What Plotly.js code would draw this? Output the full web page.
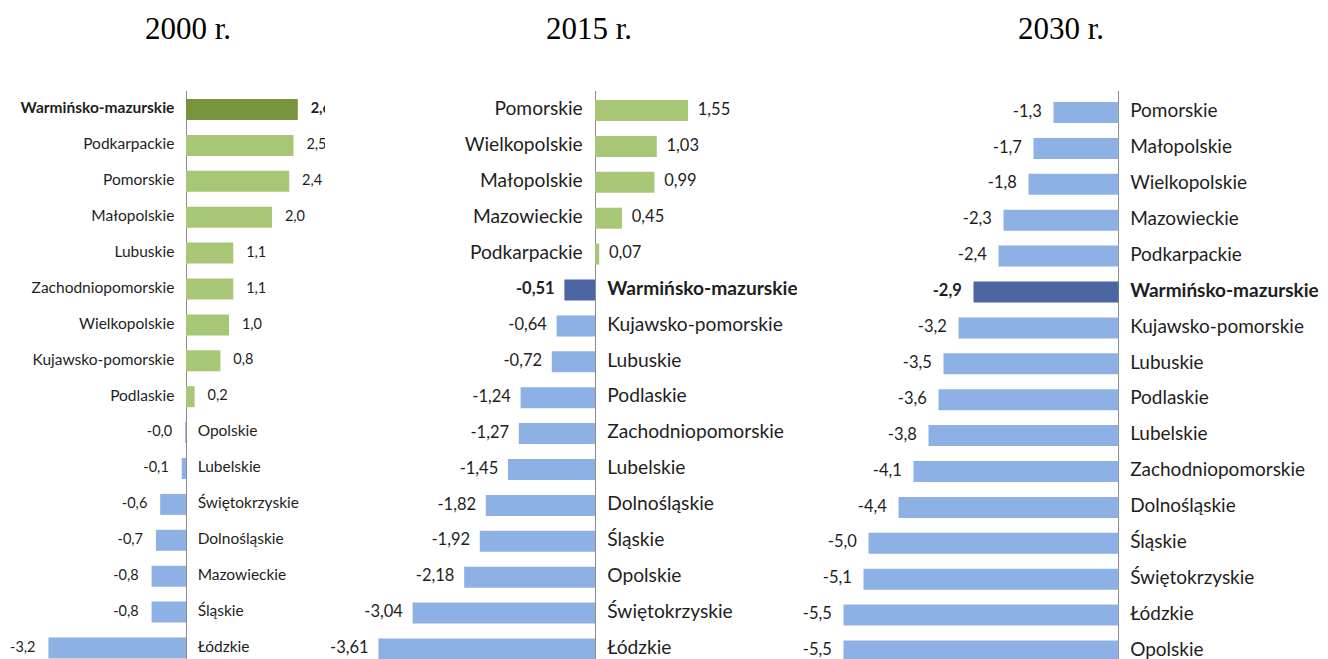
<!DOCTYPE html>
<html>
<head>
<meta charset="utf-8">
<script src="https://cdn.plot.ly/plotly-3.0.1.min.js"></script>
<style>
  html, body { margin: 0; padding: 0; background: #fff; }
  #myPlot { width: 1328px; height: 659px; }
</style>
</head>
<body>
<div id="myPlot"></div>
<script>
// regiony i saldo w trzech latach
var years = ["2000 r.", "2015 r.", "2030 r."];

var cats2000 = ["Warmińsko-mazurskie", "Podkarpackie", "Pomorskie", "Małopolskie", "Lubuskie",
  "Zachodniopomorskie", "Wielkopolskie", "Kujawsko-pomorskie", "Podlaskie", "Opolskie",
  "Lubelskie", "Świętokrzyskie", "Dolnośląskie", "Mazowieckie", "Śląskie", "Łódzkie"];
var vals2000 = [2.6, 2.5, 2.4, 2.0, 1.1, 1.1, 1.0, 0.8, 0.2, -0.02, -0.1, -0.6, -0.7, -0.8, -0.8, -3.2];

var cats2015 = ["Pomorskie", "Wielkopolskie", "Małopolskie", "Mazowieckie", "Podkarpackie",
  "Warmińsko-mazurskie", "Kujawsko-pomorskie", "Lubuskie", "Podlaskie", "Zachodniopomorskie",
  "Lubelskie", "Dolnośląskie", "Śląskie", "Opolskie", "Świętokrzyskie", "Łódzkie"];
var vals2015 = [1.55, 1.03, 0.99, 0.45, 0.07, -0.51, -0.64, -0.72, -1.24, -1.27, -1.45, -1.82, -1.92, -2.18, -3.04, -3.61];

var cats2030 = ["Pomorskie", "Małopolskie", "Wielkopolskie", "Mazowieckie", "Podkarpackie",
  "Warmińsko-mazurskie", "Kujawsko-pomorskie", "Lubuskie", "Podlaskie", "Lubelskie",
  "Zachodniopomorskie", "Dolnośląskie", "Śląskie", "Świętokrzyskie", "Łódzkie", "Opolskie"];
var vals2030 = [-1.3, -1.7, -1.8, -2.3, -2.4, -2.9, -3.2, -3.5, -3.6, -3.8, -4.1, -4.4, -5.0, -5.1, -5.5, -5.5];

var highlight = "Warmińsko-mazurskie";

var W = 1328, H = 659;
var FONT = "Lato, 'Open Sans', sans-serif";

// px settings for each panel: left/right edge, axis position, px per unit
var panels = [
  {cats: cats2000, vals: vals2000, dec: 1, left: 0, right: 325, axis: 186, ppu: 43, top: 18.5,
   labSize: 15.5, valSize: 14.5, labGap: 17, valGap: 19, clip: true},
  {cats: cats2015, vals: vals2015, dec: 2, left: 328, right: 797, axis: 595, ppu: 60, top: 19.5,
   labSize: 19.2, valSize: 16.5, labGap: 18, valGap: 14, clip: true},
  {cats: cats2030, vals: vals2030, dec: 1, left: 797, right: 1328, axis: 1118.5, ppu: 50, top: 21.5,
   labSize: 19, valSize: 16.5, labGap: 17, valGap: 17, clip: false}
];

var plotTop = 91;
var rowPx = 35.9;

function fmt(v, d) {
  return v.toFixed(d).replace(".", ",");
}

var data = [];
var layout = {
  width: W, height: H,
  margin: {l: 0, r: 0, t: 0, b: 0},
  paper_bgcolor: "#fff", plot_bgcolor: "rgba(0,0,0,0)",
  showlegend: false,
  bargap: 0.415,
  font: {family: FONT, color: "#1e1e1e"},
  annotations: []
};

panels.forEach(function (p, i) {
  var xa = i === 0 ? "x" : "x" + (i + 1);
  var ya = i === 0 ? "y" : "y" + (i + 1);
  var xkey = i === 0 ? "xaxis" : "xaxis" + (i + 1);
  var ykey = i === 0 ? "yaxis" : "yaxis" + (i + 1);

  var colors = p.vals.map(function (v, k) {
    var hi = p.cats[k] === highlight;
    if (v >= 0) return hi ? "#77933C" : "#A7C777";
    return hi ? "#4B66A3" : "#8DB1E4";
  });

  data.push({
    type: "bar", orientation: "h",
    x: p.vals, y: p.cats,
    xaxis: xa, yaxis: ya,
    marker: {color: colors, line: {width: 0}},
    hoverinfo: "skip"
  });

  // category names on the other side of the axis
  data.push({
    type: "scatter", mode: "markers+text",
    x: p.cats.map(function () { return 0; }), y: p.cats,
    xaxis: xa, yaxis: ya,
    text: p.cats.map(function (c) { return c === highlight ? "<b>" + c + "</b>" : c; }),
    textposition: p.vals.map(function (v) { return v >= 0 ? "middle left" : "middle right"; }),
    textfont: {family: FONT, size: p.labSize, color: "#1e1e1e"},
    marker: {size: p.labGap, color: "rgba(0,0,0,0)"},
    cliponaxis: p.clip,
    hoverinfo: "skip"
  });

  // values beside the bar end
  data.push({
    type: "scatter", mode: "markers+text",
    x: p.vals, y: p.cats,
    xaxis: xa, yaxis: ya,
    text: p.vals.map(function (v, k) {
      var s = fmt(v, p.dec);
      return p.cats[k] === highlight ? "<b>" + s + "</b>" : s;
    }),
    textposition: p.vals.map(function (v) { return v >= 0 ? "middle right" : "middle left"; }),
    textfont: {family: FONT, size: p.valSize, color: "#1e1e1e"},
    marker: {size: p.valGap, color: "rgba(0,0,0,0)"},
    cliponaxis: p.clip,
    hoverinfo: "skip"
  });

  var units = (H - plotTop) / rowPx;
  var off = p.top / rowPx;

  layout[xkey] = {
    domain: [p.left / W, p.right / W],
    range: [-(p.axis - p.left) / p.ppu, (p.right - p.axis) / p.ppu],
    anchor: ya,
    showticklabels: false, ticks: "", showgrid: false, showline: false,
    zeroline: true, zerolinecolor: "#8c8c8c", zerolinewidth: 1,
    fixedrange: true
  };
  // reversed category axis, bottom row runs past the page edge like in the source
  layout[ykey] = {
    domain: [0, 1 - plotTop / H],
    anchor: xa,
    type: "category",
    range: [units - off, -off],
    showticklabels: false, ticks: "", showgrid: false, showline: false, zeroline: false,
    fixedrange: true
  };
});

// year titles above the panels
var titleX = [188, 589, 1061];
years.forEach(function (t, i) {
  layout.annotations.push({
    text: t, xref: "paper", yref: "paper",
    x: titleX[i] / W, y: 1 - 29 / H,
    xanchor: "center", yanchor: "middle",
    showarrow: false,
    font: {family: "'Liberation Serif', 'Times New Roman', serif", size: 31, color: "#000"}
  });
});

Plotly.newPlot("myPlot", data, layout, {staticPlot: true});
</script>
</body>
</html>
